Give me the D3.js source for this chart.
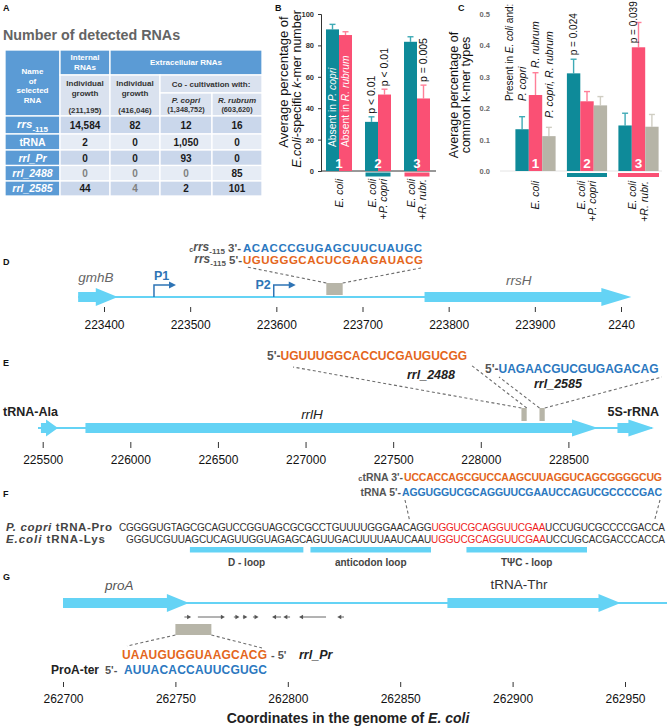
<!DOCTYPE html>
<html><head><meta charset="utf-8">
<script src="https://cdn.jsdelivr.net/npm/d3@7/dist/d3.min.js"></script>
<style>
html,body{margin:0;padding:0;background:#fff;}
svg{display:block;font-family:"Liberation Sans",Arial,Helvetica,sans-serif;}
</style></head><body>
<script>
// ================= DATA =================
const tableRNAs = ["rrs-115", "tRNA", "rrl_Pr", "rrl_2488", "rrl_2585"];
const internalIndividual = [14584, 2, 0, 0, 44];
const extracellularIndividual = [82, 0, 0, 0, 4];
const cocultPcopri = [12, 1050, 93, 0, 2];
const cocultRrubrum = [16, 0, 0, 85, 101];
const readTotals = ["(211,195)", "(416,046)", "(1,348,752)", "(603,620)"];

const groups = ["E. coli", "E. coli + P. copri", "E. coli + R. rubr."];
const groupNumbers = ["1", "2", "3"];

const bTicks = [0, 20, 40, 60, 80, 100];
const bAbsentPcopri = [90.2, 31.3, 82.3];
const bAbsentPcopriSD = [3.2, 3.2, 3.2];
const bAbsentRrubrum = [86.6, 48.7, 46.2];
const bAbsentRrubrumSD = [2.1, 3.4, 8.5];
const bPcopriP = ["", "p < 0.01", ""];
const bRrubrumP = ["", "p < 0.01", "p = 0.005"];

const cTicks = [0, 0.1, 0.2, 0.3, 0.4, 0.5];
const cPcopri = [0.133, 0.311, 0.145];
const cPcopriSD = [0.040, 0.045, 0.039];
const cRrubrum = [0.242, 0.222, 0.394];
const cRrubrumSD = [0.071, 0.031, 0.079];
const cBoth = [0.111, 0.209, 0.141];
const cBothSD = [0.028, 0.028, 0.039];
const cPcopriP = ["", "p = 0.024", ""];
const cRrubrumP = ["", "", "p = 0.039"];

const dGenes = [{name: "gmhB", start: 223370, end: 223416}, {name: "rrsH", start: 223772, end: 224012}];
const dPromoters = [{name: "P1", pos: 223458}, {name: "P2", pos: 223597}];
const dSmallRNA = {start: 223658, end: 223677};
const dTicks = [223400, 223500, 223600, 223700, 223800, 223900, 224000];
const dTickLabels = ["223400", "223500", "223600", "223700", "223800", "223900", "2240"];
const rrsComplementSeq = "ACACCCGUGAGCUUCUAUGC";
const rrsSeq = "UGUGGGCACUCGAAGAUACG";

const eGenes = [{name: "tRNA-Ala", start: 225490, end: 225587}, {name: "rrlH", start: 225744, end: 228669}, {name: "5S-rRNA", start: 228780, end: 228988}];
const eSmallRNAs = [{name: "rrl_2488", start: 228232, end: 228262, seq: "UGUUUGGCACCUCGAUGUCGG"},
                    {name: "rrl_2585", start: 228335, end: 228365, seq: "UAGAACGUCGUGAGACAG"}];
const eTicks = [225500, 226000, 226500, 227000, 227500, 228000, 228500];

const ctRNASeq = "UCCACCAGCGUCCAAGCUUAGGUCAGCGGGGCUG";
const tRNASeq = "AGGUGGUCGCAGGUUCGAAUCCAGUCGCCCCGAC";
const pcopriTRNAPro = ["CGGGGUGTAGCGCAGUCCGGUAGCGCGCCTGUUUUGGGAACAGG", "UGGUCGCAGGUUCGAA", "UCCUGUCGCCCCGACCA"];
const ecoliTRNALys = ["GGGUCGUUAGCUCAGUUGGUAGAGCAGUUGACUUUUAAUCAAU", "UGGUCGCAGGUUCGAA", "UCCUGCACGACCCACCA"];
const tRNALoops = [{name: "D - loop", from: 10, to: 26}, {name: "anticodon loop", from: 27, to: 44}, {name: "T\u03A8C - loop", from: 49, to: 66}];

const gGenes = [{name: "proA", start: 262700, end: 262756}, {name: "tRNA-Thr", start: 262871, end: 262948}];
const gRepeats = [[262754, 262757], [262760, 262772], [262776, 262778.5], [262780, 262782], [262784.5, 262787], [262797, 262793], [262801, 262798], [262817, 262805], [262825, 262822]];
const gSmallRNA = {start: 262750, end: 262766};
const rrlPrSeq = "UAAUGUGGUAAGCACG";
const proATerSeq = "AUUACACCAUUCGUGC";
const gTicks = [262700, 262750, 262800, 262850, 262900, 262950];

// ================= STYLE =================
const TEAL = "#0E8A99", TEAL_E = "#3FAAB6", PINK = "#FA5074", PINK_E = "#FF7F98", GRAY = "#B6B4A7", GRAY_E = "#D0CEC3";
const GENE = "#64D3F5", BOX = "#B7B5A8", ORANGE = "#E4661C", SEQBLUE = "#2B78C0", PBLUE = "#2E74B5", LABELGRAY = "#555";
const W = 669, H = 728;
const svg = d3.select("body").append("svg").attr("width", W).attr("height", H);

function txt(g, x, y, parts, o = {}) {
  const t = g.append("text").attr("x", x).attr("y", y)
    .attr("font-size", o.size || 10).attr("font-weight", o.weight || "normal")
    .attr("fill", o.fill || "#222").attr("text-anchor", o.anchor || "start");
  if (o.textLength) t.attr("textLength", o.textLength).attr("lengthAdjust", "spacing");
  if (typeof parts === "string") parts = [[parts]];
  parts.forEach(p => {
    const s = t.append("tspan").text(p[0]);
    const q = p[1] || {};
    if (q.italic) s.attr("font-style", "italic");
    if (q.fill) s.attr("fill", q.fill);
    if (q.size) s.attr("font-size", q.size);
    if (q.dy) s.attr("dy", q.dy);
    if (q.weight) s.attr("font-weight", q.weight);
  });
  return t;
}
function rtxt(g, cx, y, parts, o = {}) {
  const size = o.size || 10;
  const t = txt(g, 0, 0, parts, o);
  t.attr("transform", `translate(${cx + size * 0.35},${y}) rotate(-90)`);
  return t;
}
function panelLabel(s, x, y) { txt(svg, x, y, s, {size: 9, weight: "bold", fill: "#111"}); }
function geneArrow(x0, x1, yc, bodyH, headH, headL) {
  const hl = Math.min(headL, (x1 - x0) * 0.7), xb = x1 - hl;
  return `M${x0},${yc - bodyH / 2}H${xb}V${yc - headH / 2}L${x1},${yc}L${xb},${yc + headH / 2}V${yc + bodyH / 2}H${x0}Z`;
}
function dashed(g, x1, y1, x2, y2) {
  g.append("line").attr("x1", x1).attr("y1", y1).attr("x2", x2).attr("y2", y2)
    .attr("stroke", "#6d6d6d").attr("stroke-width", 1.1).attr("stroke-dasharray", "3,2.5");
}
function styleAxis(ax, textY, size) {
  ax.select(".domain").remove();
  ax.selectAll(".tick line").attr("stroke", "#333").attr("stroke-width", 1);
  ax.selectAll(".tick text").attr("y", textY).attr("dy", null)
    .attr("font-size", size).attr("fill", "#111").attr("font-family", null);
  ax.attr("font-family", null);
}

// ================= PANEL A =================
panelLabel("A", 3, 11);
const gA = svg.append("g");
txt(gA, 3, 39.5, "Number of detected RNAs", {size: 14.3, weight: "bold", fill: "#646464"});
const TX = [5, 60, 110, 160, 212, 262];
const HY = [50, 75, 93, 116];
const RY = [116, 134, 150, 165.5, 181, 196];
const HBLUE = "#5B9BD5", HLIGHT = "#DAE2EF", ROWD = "#CAD7EB", ROWL = "#E6ECF5";
function cell(x0, y0, x1, y1, fill) {
  gA.append("rect").attr("x", x0).attr("y", y0).attr("width", x1 - x0).attr("height", y1 - y0)
    .attr("fill", fill).attr("stroke", "#fff").attr("stroke-width", 1.3);
}
cell(TX[0], HY[0], TX[1], HY[3], HBLUE);
cell(TX[1], HY[0], TX[2], HY[1], HBLUE);
cell(TX[2], HY[0], TX[5], HY[1], HBLUE);
cell(TX[1], HY[1], TX[2], HY[3], HLIGHT);
cell(TX[2], HY[1], TX[3], HY[3], HLIGHT);
cell(TX[3], HY[1], TX[5], HY[2], HLIGHT);
cell(TX[3], HY[2], TX[4], HY[3], HLIGHT);
cell(TX[4], HY[2], TX[5], HY[3], HLIGHT);
const hw = {size: 8, weight: "bold", fill: "#fff", anchor: "middle"};
["Name", "of", "selected", "RNA"].forEach((s, i) => txt(gA, 32.5, [73.5, 83.5, 93, 102.5][i], s, hw));
txt(gA, 85, 60, "Internal", hw); txt(gA, 85, 70, "RNAs", hw);
txt(gA, 186, 65, "Extracellular RNAs", hw);
const hd = {size: 8, weight: "bold", fill: "#333", anchor: "middle"};
[85, 135].forEach(cx => { txt(gA, cx, 86, "Individual", hd); txt(gA, cx, 96, "growth", hd); });
txt(gA, 211, 87, "Co - cultivation with:", hd);
txt(gA, 186, 102.5, [["P. copri", {italic: true}]], hd);
txt(gA, 237, 102.5, [["R. rubrum", {italic: true}]], hd);
const totalsX = [85, 135, 186, 237];
readTotals.forEach((s, i) => txt(gA, totalsX[i], i < 2 ? 112.5 : 111.5, s, {size: i < 2 ? 7.8 : 7.3, weight: "bold", fill: "#333", anchor: "middle"}));
const valueCols = [internalIndividual, extracellularIndividual, cocultPcopri, cocultRrubrum];
const muted = {"3-0": 1, "3-1": 1, "3-2": 1, "4-1": 1};
const fmt = d3.format(",");
tableRNAs.forEach((name, i) => {
  cell(TX[0], RY[i], TX[1], RY[i + 1], HBLUE);
  const yb = (RY[i] + RY[i + 1]) / 2 + 3.8;
  let parts;
  if (name === "rrs-115") parts = [["rrs", {italic: true, size: 11.5, dy: -1}], ["-115", {size: 8, dy: 4}]];
  else if (name === "tRNA") parts = [["tRNA"]];
  else parts = [[name, {italic: true}]];
  txt(gA, 32.5, yb, parts, {size: 10.5, weight: "bold", fill: "#fff", anchor: "middle"});
  valueCols.forEach((col, c) => {
    cell(TX[c + 1], RY[i], TX[c + 2], RY[i + 1], i % 2 ? ROWL : ROWD);
    txt(gA, (TX[c + 1] + TX[c + 2]) / 2, yb, fmt(col[i]), {size: 10, weight: "bold", fill: muted[i + "-" + c] ? "#808080" : "#1a1a1a", anchor: "middle"});
  });
});

// ================= PANEL B =================
panelLabel("B", 275, 11);
const gB = svg.append("g");
const yB = d3.scaleLinear().domain([0, 100]).range([171, 14]);
const xB = d3.scalePoint().domain(groups).range([339, 417]);
const bwB = 13;
const axB = gB.append("g").attr("transform", "translate(321,0)").call(d3.axisLeft(yB).tickValues(bTicks).tickSize(3).tickPadding(4));
axB.select(".domain").attr("stroke", "#333");
axB.selectAll(".tick line").attr("stroke", "#333");
axB.selectAll(".tick text").attr("font-size", 7.5).attr("font-weight", "bold").attr("fill", "#333");
axB.attr("font-family", null);
gB.append("line").attr("x1", 321).attr("x2", 436).attr("y1", 171).attr("y2", 171).attr("stroke", "#333");
const bSeries = [
  {vals: bAbsentPcopri, sd: bAbsentPcopriSD, c: TEAL, e: TEAL_E, off: -1, p: bPcopriP},
  {vals: bAbsentRrubrum, sd: bAbsentRrubrumSD, c: PINK, e: PINK_E, off: 0, p: bRrubrumP}];
bSeries.forEach(s => {
  groups.forEach((gname, i) => {
    const x0 = xB(gname) + s.off * bwB, cx = x0 + bwB / 2;
    const top = yB(s.vals[i]), et = yB(s.vals[i] + s.sd[i]);
    gB.append("line").attr("x1", cx).attr("x2", cx).attr("y1", top).attr("y2", et).attr("stroke", s.e).attr("stroke-width", 1.4);
    gB.append("line").attr("x1", cx - 3).attr("x2", cx + 3).attr("y1", et).attr("y2", et).attr("stroke", s.e).attr("stroke-width", 1.4);
    gB.append("rect").attr("x", x0).attr("y", top).attr("width", bwB).attr("height", yB(0) - top).attr("fill", s.c);
    if (s.p[i]) rtxt(gB, cx, et - 3, s.p[i], {size: 10.5, fill: "#111"});
  });
});
rtxt(gB, xB(groups[0]) - bwB / 2, 147, [["Absent in "], ["P. copri", {italic: true}]], {size: 10.3, fill: "#fff"});
rtxt(gB, xB(groups[0]) + bwB / 2, 147, [["Absent in "], ["R. rubrum", {italic: true}]], {size: 10.3, fill: "#fff"});
groups.forEach((gname, i) => txt(gB, xB(gname), 168, groupNumbers[i], {size: 13.5, weight: "bold", fill: "#fff", anchor: "middle"}));
gB.append("rect").attr("x", xB(groups[1]) - 12.5).attr("y", 172.5).attr("width", 25).attr("height", 4).attr("fill", TEAL);
gB.append("rect").attr("x", xB(groups[2]) - 12.5).attr("y", 172.5).attr("width", 25).attr("height", 4).attr("fill", PINK);
function groupLabels(g, xs, yTop) {
  rtxt(g, xs(groups[0]), yTop, [["E. coli", {italic: true}]], {size: 10.5, fill: "#111", anchor: "end"});
  rtxt(g, xs(groups[1]) - 6, yTop, [["E. coli", {italic: true}]], {size: 10.5, fill: "#111", anchor: "end"});
  rtxt(g, xs(groups[1]) + 5.5, yTop, [["+"], ["P. copri", {italic: true}]], {size: 10.5, fill: "#111", anchor: "end"});
  rtxt(g, xs(groups[2]) - 6, yTop, [["E. coli", {italic: true}]], {size: 10.5, fill: "#111", anchor: "end"});
  rtxt(g, xs(groups[2]) + 5.5, yTop, [["+"], ["R. rubr.", {italic: true}]], {size: 10.5, fill: "#111", anchor: "end"});
}
groupLabels(gB, xB, 179);
rtxt(gB, 283, 82, "Average percentage of", {size: 13, fill: "#111", anchor: "middle"});
rtxt(gB, 297, 89, [["E.coli", {italic: true}], ["-specific "], ["k", {italic: true}], ["-mer number"]], {size: 12.5, fill: "#111", anchor: "middle"});

// ================= PANEL C =================
panelLabel("C", 458, 11);
const gC = svg.append("g");
const yC = d3.scaleLinear().domain([0, 0.5]).range([171, 14]);
const xC = d3.scalePoint().domain(groups).range([535.5, 638.5]);
const bwC = 13.4;
const axC = gC.append("g").attr("transform", "translate(492,0)").call(d3.axisLeft(yC).tickValues(cTicks).tickSize(0).tickPadding(2).tickFormat(d3.format(".1f")));
axC.select(".domain").remove();
axC.selectAll(".tick text").attr("font-size", 7.5).attr("font-weight", "bold").attr("fill", "#6a6a6a");
axC.attr("font-family", null);
gC.append("line").attr("x1", 500).attr("x2", 662).attr("y1", 171).attr("y2", 171).attr("stroke", "#e4e4e4");
const cSeries = [
  {vals: cPcopri, sd: cPcopriSD, c: TEAL, e: TEAL_E, off: -1.5, p: cPcopriP},
  {vals: cRrubrum, sd: cRrubrumSD, c: PINK, e: PINK_E, off: -0.5, p: cRrubrumP},
  {vals: cBoth, sd: cBothSD, c: GRAY, e: GRAY_E, off: 0.5, p: ["", "", ""]}];
cSeries.forEach(s => {
  groups.forEach((gname, i) => {
    const x0 = xC(gname) + s.off * bwC, cx = x0 + bwC / 2;
    const top = yC(s.vals[i]), et = yC(s.vals[i] + s.sd[i]);
    gC.append("line").attr("x1", cx).attr("x2", cx).attr("y1", top).attr("y2", et).attr("stroke", s.e).attr("stroke-width", 1.4);
    gC.append("line").attr("x1", cx - 3).attr("x2", cx + 3).attr("y1", et).attr("y2", et).attr("stroke", s.e).attr("stroke-width", 1.4);
    gC.append("rect").attr("x", x0).attr("y", top).attr("width", bwC).attr("height", yC(0) - top).attr("fill", s.c);
    if (s.p[i]) {
      const len = s.p[i].length * 5.2;
      if (et - 4 - len < 0) rtxt(gC, cx - 5, top - 4, s.p[i], {size: 10, fill: "#111"});
      else rtxt(gC, cx, et - 4, s.p[i], {size: 10, fill: "#111"});
    }
  });
});
groups.forEach((gname, i) => txt(gC, xC(gname), 168, groupNumbers[i], {size: 13.5, weight: "bold", fill: "#fff", anchor: "middle"}));
gC.append("rect").attr("x", xC(groups[1]) - 20).attr("y", 173).attr("width", 40).attr("height", 4).attr("fill", TEAL);
gC.append("rect").attr("x", xC(groups[2]) - 20.5).attr("y", 173).attr("width", 41).attr("height", 4).attr("fill", PINK);
groupLabels(gC, xC, 181);
const g1 = xC(groups[0]);
rtxt(gC, g1 - 26, 101, [["Present in "], ["E. coli", {italic: true}], [" and:"]], {size: 10, fill: "#111"});
rtxt(gC, g1 - bwC, 101, [["P. copri", {italic: true}]], {size: 10.5, fill: "#111"});
rtxt(gC, g1, 68, [["R. rubrum", {italic: true}]], {size: 10.5, fill: "#111"});
rtxt(gC, g1 + bwC, 118, [["P. copri, R. rubrum", {italic: true}]], {size: 10.5, fill: "#111"});
rtxt(gC, 454, 95, "Average percentage of", {size: 12.5, fill: "#111", anchor: "middle"});
rtxt(gC, 466, 95, "common k-mer types", {size: 12.5, fill: "#111", anchor: "middle"});

// ================= PANEL D =================
panelLabel("D", 3, 265);
const gD = svg.append("g");
const xD = d3.scaleLinear().domain([223400, 224000]).range([104, 621]);
const yD = 297;
gD.append("line").attr("x1", xD(dGenes[0].start)).attr("x2", xD(dGenes[1].end) - 5).attr("y1", yD).attr("y2", yD).attr("stroke", GENE).attr("stroke-width", 2);
dGenes.forEach(g => gD.append("path").attr("d", geneArrow(xD(g.start), xD(g.end), yD, 10, 18, g.end - g.start > 100 ? 30 : 22)).attr("fill", GENE));
txt(gD, xD(dGenes[0].start), 282, [[dGenes[0].name, {italic: true}]], {size: 13.5, fill: "#666"});
txt(gD, 506, 285, [[dGenes[1].name, {italic: true}]], {size: 13.5, fill: "#666"});
dPromoters.forEach((p, i) => {
  const x = xD(p.pos);
  gD.append("path").attr("d", `M${x},${yD}V285H${x + 16}`).attr("fill", "none").attr("stroke", PBLUE).attr("stroke-width", 1.5);
  gD.append("path").attr("d", `M${x + 22},285L${x + 15},281.5L${x + 15},288.5Z`).attr("fill", PBLUE);
  if (i === 0) txt(gD, x, 280, p.name, {size: 12.5, weight: "bold", fill: PBLUE});
  else txt(gD, x - 3, 289, p.name, {size: 12.5, weight: "bold", fill: PBLUE, anchor: "end"});
});
const dbx0 = xD(dSmallRNA.start), dbx1 = xD(dSmallRNA.end);
gD.append("rect").attr("x", dbx0).attr("y", 283).attr("width", dbx1 - dbx0).attr("height", 12).attr("fill", BOX);
dashed(gD, dbx0, 283, 247, 267);
dashed(gD, dbx1, 283, 421, 268);
txt(gD, 241, 251.5, [["c", {size: 7}], ["rrs", {italic: true, size: 12, dy: -1}], ["-115", {size: 8, dy: 3}], [" 3'-", {dy: -2}]], {size: 11.5, weight: "bold", fill: LABELGRAY, anchor: "end"});
txt(gD, 243, 251.5, rrsComplementSeq, {size: 11.5, weight: "bold", fill: SEQBLUE, textLength: 179});
txt(gD, 242, 264, [["rrs", {italic: true, size: 12, dy: -1}], ["-115", {size: 8, dy: 3}], [" 5'-", {dy: -2}]], {size: 11.5, weight: "bold", fill: LABELGRAY, anchor: "end"});
txt(gD, 243, 264, rrsSeq, {size: 11.5, weight: "bold", fill: ORANGE, textLength: 180});
const axD = gD.append("g").attr("transform", "translate(0,307)").call(d3.axisBottom(xD).tickValues(dTicks).tickSize(5).tickFormat((d, i) => dTickLabels[i]));
styleAxis(axD, 22, 12);

// ================= PANEL E =================
panelLabel("E", 3, 366);
const gE = svg.append("g");
const xE = d3.scaleLinear().domain([225500, 228500]).range([42.7, 568.4]);
const yE = 428;
gE.append("line").attr("x1", 38).attr("x2", 652).attr("y1", yE).attr("y2", yE).attr("stroke", GENE).attr("stroke-width", 2);
eGenes.forEach(g => gE.append("path").attr("d", geneArrow(xE(g.start), xE(g.end), yE, 10, 17, 26)).attr("fill", GENE));
txt(gE, 3, 416, eGenes[0].name, {size: 12.5, weight: "bold", fill: "#222"});
txt(gE, 312, 419, [[eGenes[1].name, {italic: true}]], {size: 13.5, fill: "#222", anchor: "middle"});
txt(gE, 659, 416, eGenes[2].name, {size: 12.5, weight: "bold", fill: "#222", anchor: "end"});
const seqEnds = [[293, 367, 471, 365], [499, 377, 662, 377]];
eSmallRNAs.forEach((r, i) => {
  const x0 = xE(r.start), x1 = xE(r.end);
  dashed(gE, x0, 408, seqEnds[i][0], seqEnds[i][1]);
  dashed(gE, x1, 408, seqEnds[i][2], seqEnds[i][3]);
  gE.append("rect").attr("x", x0).attr("y", 408).attr("width", x1 - x0).attr("height", 13).attr("fill", BOX);
});
txt(gE, 267, 360, [["5'-", {fill: LABELGRAY}], [eSmallRNAs[0].seq, {fill: ORANGE}]], {size: 12, weight: "bold"});
txt(gE, 485, 373, [["5'-", {fill: LABELGRAY}], [eSmallRNAs[1].seq, {fill: SEQBLUE}]], {size: 12, weight: "bold"});
txt(gE, 407, 379, [[eSmallRNAs[0].name, {italic: true}]], {size: 12.5, weight: "bold", fill: "#222"});
txt(gE, 534, 388, [[eSmallRNAs[1].name, {italic: true}]], {size: 12.5, weight: "bold", fill: "#222"});
const axE = gE.append("g").attr("transform", "translate(0,442)").call(d3.axisBottom(xE).tickValues(eTicks).tickSize(6).tickFormat(d3.format("d")));
styleAxis(axE, 22, 12);

// ================= PANEL F =================
panelLabel("F", 3, 497);
const gF = svg.append("g");
txt(gF, 403, 481, [["c", {size: 7.5}], ["tRNA 3'-"]], {size: 10.5, weight: "bold", fill: LABELGRAY, anchor: "end"});
txt(gF, 404, 481, ctRNASeq, {size: 10.5, weight: "bold", fill: ORANGE, textLength: 258});
txt(gF, 401, 496, "tRNA 5'-", {size: 10.5, weight: "bold", fill: LABELGRAY, anchor: "end"});
txt(gF, 402, 496, tRNASeq, {size: 10.5, weight: "bold", fill: SEQBLUE, textLength: 260});
const xF = d3.scaleLinear().domain([0, 77]).range([119, 665]);
dashed(gF, 405, 500, xF(41), 521);
dashed(gF, 660, 500, xF(75.5), 521);
function alignRow(seq, startCol, y) {
  txt(gF, xF(startCol), y, [[seq[0]], [seq[1], {fill: "#EE1C1C"}], [seq[2]]],
    {size: 10, fill: "#333", textLength: xF(startCol + seq.join("").length) - xF(startCol)});
}
alignRow(pcopriTRNAPro, 0, 531);
alignRow(ecoliTRNALys, 77 - ecoliTRNALys.join("").length, 542.5);
txt(gF, 6, 531, [["P. copri", {italic: true}], [" tRNA-Pro"]], {size: 11.5, weight: "bold", fill: "#444", textLength: 106});
txt(gF, 6, 543, [["E.coli", {italic: true}], [" tRNA-Lys"]], {size: 11.5, weight: "bold", fill: "#444", textLength: 99});
tRNALoops.forEach(l => {
  gF.append("rect").attr("x", xF(l.from)).attr("y", 547).attr("width", xF(l.to) - xF(l.from)).attr("height", 5.5).attr("fill", GENE);
  txt(gF, (xF(l.from) + xF(l.to)) / 2, 566, l.name, {size: 10, weight: "bold", fill: "#444", anchor: "middle"});
});

// ================= PANEL G =================
panelLabel("G", 3, 580);
const gG = svg.append("g");
const xG = d3.scaleLinear().domain([262700, 262950]).range([63, 625]);
const yG = 603;
gG.append("line").attr("x1", xG(262700)).attr("x2", 667).attr("y1", yG).attr("y2", yG).attr("stroke", GENE).attr("stroke-width", 2);
gGenes.forEach(g => gG.append("path").attr("d", geneArrow(xG(g.start), xG(g.end), yG, 10, 18, 22)).attr("fill", GENE));
txt(gG, 105, 590, [[gGenes[0].name, {italic: true}]], {size: 13.5, fill: "#555"});
txt(gG, 519, 589, gGenes[1].name, {size: 13.5, fill: "#333", anchor: "middle"});
gRepeats.forEach(r => {
  const x1 = xG(r[0]), x2 = xG(r[1]), dir = Math.sign(x2 - x1), y = 617;
  gG.append("line").attr("x1", x1).attr("x2", x2 - dir * 2).attr("y1", y).attr("y2", y).attr("stroke", "#555").attr("stroke-width", 0.9);
  gG.append("path").attr("d", `M${x2},${y}L${x2 - dir * 4},${y - 2.2}L${x2 - dir * 4},${y + 2.2}Z`).attr("fill", "#555");
});
const gbx0 = xG(gSmallRNA.start), gbx1 = xG(gSmallRNA.end);
gG.append("rect").attr("x", gbx0).attr("y", 624).attr("width", gbx1 - gbx0).attr("height", 11).attr("fill", BOX);
dashed(gG, gbx0, 635, 127, 646);
dashed(gG, gbx1, 635, 262, 648);
txt(gG, 122, 659, rrlPrSeq, {size: 12, weight: "bold", fill: ORANGE, textLength: 145});
txt(gG, 271, 659, " - 5'", {size: 11, weight: "bold", fill: LABELGRAY});
txt(gG, 299, 659, [["rrl_Pr", {italic: true}]], {size: 12.5, weight: "bold", fill: "#222"});
txt(gG, 51, 674, "ProA-ter", {size: 12, weight: "bold", fill: "#222"});
txt(gG, 105, 674, "5'-", {size: 11, weight: "bold", fill: LABELGRAY});
txt(gG, 124, 674, proATerSeq, {size: 12, weight: "bold", fill: SEQBLUE, textLength: 143});
const axG = gG.append("g").attr("transform", "translate(0,682)").call(d3.axisBottom(xG).tickValues(gTicks).tickSize(5).tickFormat(d3.format("d")));
styleAxis(axG, 21, 12);
txt(gG, 348, 723, [["Coordinates in the genome of "], ["E. coli", {italic: true}]], {size: 14, weight: "bold", fill: "#222", anchor: "middle"});
</script></body></html>
